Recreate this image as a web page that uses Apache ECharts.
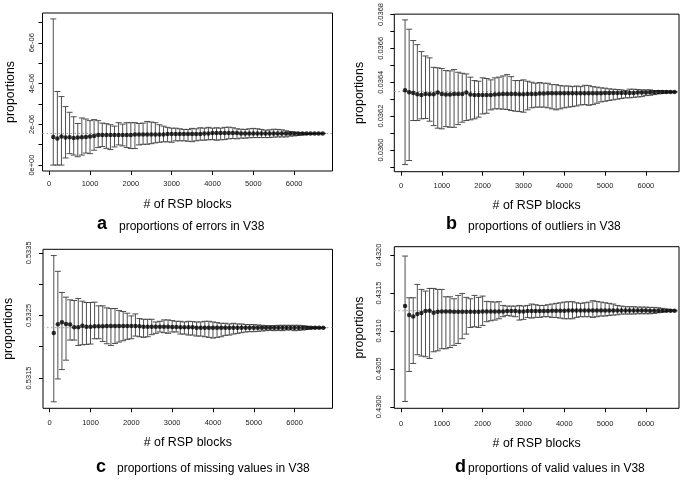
<!DOCTYPE html>
<html>
<head>
<meta charset="utf-8">
<script src="https://cdn.jsdelivr.net/npm/echarts@6/dist/echarts.min.js"></script>
<style>
html,body{margin:0;padding:0;background:#fff;}
#c{width:685px;height:480px;}
</style>
</head>
<body>
<div id="c"></div>
<script>
// ---------- DATA ----------
const blocks = [100,200,300,400,500,600,700,800,900,1000,
  1100,1200,1300,1400,1500,1600,1700,1800,1900,2000,
  2100,2200,2300,2400,2500,2600,2700,2800,2900,3000,
  3100,3200,3300,3400,3500,3600,3700,3800,3900,4000,
  4100,4200,4300,4400,4500,4600,4700,4800,4900,5000,
  5100,5200,5300,5400,5500,5600,5700,5800,5900,6000,
  6100,6200,6300,6400,6500,6600,6700];

// a: proportions of errors
const errMean = [1.38e-6,1.30e-6,1.40e-6,1.35e-6,1.37e-6,1.33e-6,1.35e-6,1.37e-6,1.38e-6,1.40e-6,
  1.43e-6,1.47e-6,1.48e-6,1.48e-6,1.48e-6,1.48e-6,1.48e-6,1.48e-6,1.48e-6,1.48e-6,
  1.50e-6,1.50e-6,1.50e-6,1.50e-6,1.50e-6,1.50e-6,1.50e-6,1.50e-6,1.52e-6,1.52e-6,
  1.52e-6,1.52e-6,1.53e-6,1.53e-6,1.53e-6,1.53e-6,1.53e-6,1.55e-6,1.55e-6,1.57e-6,
  1.57e-6,1.57e-6,1.57e-6,1.57e-6,1.57e-6,1.57e-6,1.55e-6,1.55e-6,1.55e-6,1.55e-6,
  1.55e-6,1.55e-6,1.55e-6,1.55e-6,1.55e-6,1.55e-6,1.55e-6,1.55e-6,1.55e-6,1.55e-6,
  1.55e-6,1.55e-6,1.55e-6,1.55e-6,1.55e-6,1.55e-6,1.55e-6];
const errLow = [0,0,0,0.35e-6,0.56e-6,0.49e-6,0.41e-6,0.49e-6,0.59e-6,0.56e-6,
  0.73e-6,0.86e-6,0.91e-6,0.82e-6,0.76e-6,0.89e-6,0.99e-6,0.94e-6,0.86e-6,0.81e-6,
  0.81e-6,0.99e-6,1.02e-6,1.02e-6,1.05e-6,1.09e-6,1.12e-6,1.14e-6,1.14e-6,1.12e-6,
  1.19e-6,1.19e-6,1.19e-6,1.17e-6,1.15e-6,1.19e-6,1.22e-6,1.22e-6,1.24e-6,1.25e-6,
  1.22e-6,1.24e-6,1.25e-6,1.29e-6,1.30e-6,1.29e-6,1.32e-6,1.32e-6,1.34e-6,1.35e-6,
  1.35e-6,1.35e-6,1.35e-6,1.35e-6,1.37e-6,1.38e-6,1.38e-6,1.38e-6,1.42e-6,1.43e-6,
  1.45e-6,1.48e-6,1.50e-6,1.52e-6,1.53e-6,1.53e-6,1.54e-6];
const errHigh = [7.17e-6,3.61e-6,3.36e-6,2.87e-6,2.59e-6,2.37e-6,2.04e-6,2.31e-6,2.26e-6,2.18e-6,
  2.23e-6,2.18e-6,2.06e-6,2.03e-6,1.98e-6,1.91e-6,2.08e-6,2.01e-6,2.08e-6,2.08e-6,
  2.08e-6,2.04e-6,2.06e-6,2.14e-6,2.11e-6,2.08e-6,1.98e-6,1.91e-6,1.85e-6,1.81e-6,
  1.81e-6,1.78e-6,1.75e-6,1.75e-6,1.80e-6,1.78e-6,1.83e-6,1.81e-6,1.85e-6,1.81e-6,
  1.83e-6,1.81e-6,1.85e-6,1.86e-6,1.83e-6,1.78e-6,1.76e-6,1.75e-6,1.78e-6,1.80e-6,
  1.78e-6,1.75e-6,1.71e-6,1.73e-6,1.76e-6,1.75e-6,1.73e-6,1.68e-6,1.65e-6,1.62e-6,
  1.58e-6,1.57e-6,1.57e-6,1.56e-6,1.56e-6,1.56e-6,1.56e-6];
const errRef = 1.55e-6;

// b: proportions of outliers
const outMean = [0.036353,0.036341,0.036337,0.036329,0.036325,0.036331,0.036329,0.036329,0.036339,0.036331,
  0.036327,0.036327,0.036331,0.036331,0.036331,0.036339,0.036327,0.036325,0.036325,0.036325,
  0.036325,0.036325,0.036327,0.036329,0.036331,0.036331,0.036331,0.036331,0.036329,0.036329,
  0.036331,0.036331,0.036331,0.036333,0.036333,0.036335,0.036335,0.036335,0.036335,0.036335,
  0.036335,0.036335,0.036335,0.036335,0.036335,0.036335,0.036335,0.036335,0.036335,0.036337,
  0.036337,0.036337,0.036337,0.036337,0.036337,0.036337,0.036337,0.036339,0.036339,0.036339,
  0.036341,0.036341,0.036343,0.036343,0.036343,0.036343,0.036343];
const outLow = [0.035914,0.035938,0.036174,0.036174,0.036184,0.036186,0.036170,0.036144,0.036129,0.036125,
  0.036138,0.036134,0.036134,0.036150,0.036164,0.036174,0.036178,0.036184,0.036194,0.036213,
  0.036217,0.036237,0.036243,0.036243,0.036241,0.036239,0.036233,0.036229,0.036227,0.036223,
  0.036237,0.036249,0.036253,0.036253,0.036253,0.036249,0.036243,0.036237,0.036243,0.036249,
  0.036253,0.036256,0.036260,0.036266,0.036268,0.036264,0.036268,0.036276,0.036284,0.036288,
  0.036292,0.036296,0.036300,0.036304,0.036308,0.036308,0.036311,0.036313,0.036315,0.036321,
  0.036323,0.036327,0.036331,0.036335,0.036337,0.036339,0.036341];
const outHigh = [0.036768,0.036713,0.036646,0.036622,0.036581,0.036555,0.036544,0.036488,0.036485,0.036481,
  0.036469,0.036467,0.036475,0.036459,0.036453,0.036449,0.036430,0.036410,0.036406,0.036426,
  0.036422,0.036414,0.036426,0.036430,0.036437,0.036445,0.036433,0.036410,0.036410,0.036414,
  0.036406,0.036400,0.036394,0.036398,0.036394,0.036394,0.036386,0.036386,0.036380,0.036378,
  0.036378,0.036374,0.036378,0.036374,0.036382,0.036380,0.036374,0.036371,0.036367,0.036365,
  0.036361,0.036359,0.036357,0.036355,0.036351,0.036359,0.036359,0.036357,0.036355,0.036355,
  0.036355,0.036351,0.036351,0.036349,0.036349,0.036347,0.036345];
const outRef = 0.036345;

// c: proportions of missing values
const missMean = [0.532218,0.532358,0.532390,0.532363,0.532353,0.532310,0.532310,0.532336,0.532320,0.532320,
  0.532326,0.532326,0.532326,0.532331,0.532331,0.532331,0.532331,0.532331,0.532331,0.532331,
  0.532331,0.532326,0.532320,0.532320,0.532320,0.532320,0.532320,0.532320,0.532320,0.532315,
  0.532315,0.532310,0.532310,0.532310,0.532310,0.532304,0.532304,0.532304,0.532304,0.532304,
  0.532304,0.532304,0.532304,0.532304,0.532304,0.532304,0.532304,0.532304,0.532304,0.532304,
  0.532304,0.532304,0.532304,0.532304,0.532304,0.532304,0.532304,0.532304,0.532304,0.532304,
  0.532304,0.532304,0.532304,0.532304,0.532304,0.532304,0.532302];
const missLow = [0.531119,0.531484,0.531634,0.531784,0.532106,0.532106,0.532020,0.532031,0.532036,0.532042,
  0.532127,0.532127,0.532084,0.532047,0.532020,0.532052,0.532074,0.532095,0.532117,0.532127,
  0.532170,0.532159,0.532149,0.532159,0.532192,0.532213,0.532235,0.532224,0.532213,0.532235,
  0.532235,0.532202,0.532202,0.532186,0.532186,0.532170,0.532170,0.532159,0.532149,0.532138,
  0.532149,0.532159,0.532181,0.532186,0.532202,0.532213,0.532224,0.532235,0.532240,0.532240,
  0.532245,0.532251,0.532256,0.532261,0.532256,0.532261,0.532256,0.532267,0.532267,0.532256,
  0.532261,0.532267,0.532277,0.532288,0.532294,0.532294,0.532299];
const missHigh = [0.533457,0.533205,0.532867,0.532792,0.532749,0.532739,0.532771,0.532728,0.532706,0.532706,
  0.532712,0.532653,0.532653,0.532621,0.532610,0.532610,0.532578,0.532562,0.532535,0.532492,
  0.532524,0.532449,0.532438,0.532438,0.532438,0.532395,0.532406,0.532428,0.532428,0.532417,
  0.532406,0.532406,0.532395,0.532406,0.532401,0.532395,0.532395,0.532406,0.532406,0.532395,
  0.532385,0.532374,0.532374,0.532363,0.532374,0.532363,0.532363,0.532353,0.532353,0.532353,
  0.532347,0.532342,0.532336,0.532336,0.532336,0.532342,0.532342,0.532342,0.532342,0.532342,
  0.532342,0.532336,0.532326,0.532315,0.532315,0.532310,0.532306];
const missRef = 0.532304;

// d: proportions of valid values
const validMean = [0.431327,0.431209,0.431191,0.431222,0.431235,0.431261,0.431266,0.431239,0.431253,0.431257,
  0.431257,0.431257,0.431253,0.431253,0.431253,0.431253,0.431253,0.431253,0.431253,0.431257,
  0.431257,0.431257,0.431257,0.431257,0.431257,0.431261,0.431261,0.431261,0.431257,0.431257,
  0.431261,0.431261,0.431261,0.431261,0.431261,0.431261,0.431266,0.431266,0.431266,0.431266,
  0.431270,0.431270,0.431270,0.431270,0.431270,0.431270,0.431270,0.431270,0.431270,0.431270,
  0.431270,0.431270,0.431270,0.431270,0.431270,0.431270,0.431270,0.431270,0.431270,0.431270,
  0.431266,0.431266,0.431266,0.431266,0.431266,0.431266,0.431266];
const validLow = [0.430070,0.430466,0.430571,0.430686,0.430668,0.430659,0.430637,0.430725,0.430738,0.430765,
  0.430765,0.430782,0.430809,0.430835,0.430897,0.430958,0.431046,0.431055,0.431046,0.431072,
  0.431121,0.431134,0.431143,0.431160,0.431187,0.431204,0.431196,0.431187,0.431143,0.431152,
  0.431178,0.431169,0.431178,0.431178,0.431187,0.431187,0.431178,0.431178,0.431169,0.431160,
  0.431160,0.431160,0.431178,0.431187,0.431187,0.431187,0.431178,0.431187,0.431196,0.431196,
  0.431204,0.431209,0.431213,0.431222,0.431222,0.431222,0.431222,0.431226,0.431226,0.431226,
  0.431226,0.431231,0.431239,0.431248,0.431257,0.431261,0.431262];
const validHigh = [0.431987,0.431437,0.431437,0.431613,0.431547,0.431525,0.431560,0.431560,0.431547,0.431547,
  0.431450,0.431450,0.431424,0.431468,0.431494,0.431442,0.431424,0.431468,0.431442,0.431459,
  0.431389,0.431385,0.431380,0.431385,0.431336,0.431327,0.431327,0.431327,0.431336,0.431327,
  0.431336,0.431354,0.431345,0.431336,0.431336,0.431345,0.431354,0.431363,0.431371,0.431380,
  0.431385,0.431385,0.431371,0.431363,0.431371,0.431380,0.431398,0.431389,0.431380,0.431371,
  0.431363,0.431354,0.431336,0.431327,0.431319,0.431319,0.431319,0.431314,0.431314,0.431314,
  0.431310,0.431310,0.431305,0.431297,0.431288,0.431279,0.431272];
const validRef = 0.431266;

// tick values and labels
const xTicks = [0,1000,2000,3000,4000,5000,6000];
const xTickText = ['0','1000','2000','3000','4000','5000','6000'];
const yTicksA = [0,1e-6,2e-6,3e-6,4e-6,5e-6,6e-6,7e-6];
const yLabelValsA = [0,2e-6,4e-6,6e-6];
const yLabelTextA = ['0e+00','2e-06','4e-06','6e-06'];
const yTicksB = [0.0359,0.0360,0.0361,0.0362,0.0363,0.0364,0.0365,0.0366,0.0367,0.0368];
const yLabelValsB = [0.0360,0.0362,0.0364,0.0366,0.0368];
const yLabelTextB = ['0.0360','0.0362','0.0364','0.0366','0.0368'];
const yTicksC = [0.5315,0.5320,0.5325,0.5330,0.5335];
const yLabelValsC = [0.5315,0.5325,0.5335];
const yLabelTextC = ['0.5315','0.5325','0.5335'];
const yTicksD = [0.4300,0.4305,0.4310,0.4315,0.4320];
const yLabelValsD = [0.4300,0.4305,0.4310,0.4315,0.4320];
const yLabelTextD = ['0.4300','0.4305','0.4310','0.4315','0.4320'];

const xName = '# of RSP blocks';
const yName = 'proportions';
const panelLetters = ['a','b','c','d'];
const panelTitles = ['proportions of errors in V38','proportions of outliers in V38',
  'proportions of missing values in V38','proportions of valid values in V38'];

// ---------- CHART ----------
const FONT = '"Liberation Sans", Arial, Helvetica, sans-serif';

const panels = [
  {grid:{left:42.5, top:13, width:290, height:158}, xMin:-164, xMax:6940,
   yMin:-0.29e-6, yMax:7.46e-6, yTicks:yTicksA, yLV:yLabelValsA, yLT:yLabelTextA,
   mean:errMean, low:errLow, high:errHigh, ref:errRef,
   yLabelMargin:7, yNameGap:26, xLabelMargin:9, xNameGap:28},
  {grid:{left:394.3, top:14, width:284.7, height:157.7}, xMin:-164, xMax:6810,
   yMin:0.035872, yMax:0.036802, yTicks:yTicksB, yLV:yLabelValsB, yLT:yLabelTextB,
   mean:outMean, low:outLow, high:outHigh, ref:outRef,
   yLabelMargin:9, yNameGap:29, xLabelMargin:10, xNameGap:28},
  {grid:{left:43, top:249.3, width:289.5, height:159}, xMin:-164, xMax:6928,
   yMin:0.531015, yMax:0.533557, yTicks:yTicksC, yLV:yLabelValsC, yLT:yLabelTextC,
   mean:missMean, low:missLow, high:missHigh, ref:missRef,
   yLabelMargin:10, yNameGap:28, xLabelMargin:11, xNameGap:28},
  {grid:{left:394.3, top:246.7, width:284.7, height:161.6}, xMin:-164, xMax:6810,
   yMin:0.42998, yMax:0.43211, yTicks:yTicksD, yLV:yLabelValsD, yLT:yLabelTextD,
   mean:validMean, low:validLow, high:validHigh, ref:validRef,
   yLabelMargin:11, yNameGap:29, xLabelMargin:11.5, xNameGap:29}
];

function pickLabel(vals, texts, v) {
  let best = 0, bd = Infinity;
  for (let k = 0; k < vals.length; k++) { const d = Math.abs(vals[k] - v); if (d < bd) { bd = d; best = k; } }
  return texts[best];
}

function renderBar(params, api) {
  const x = api.value(0), lo = api.value(1), hi = api.value(2);
  const pl = api.coord([x, lo]);
  const ph = api.coord([x, hi]);
  const w = 3;
  const st = {stroke:'#3c3c3c', lineWidth:0.9};
  return {type:'group', children:[
    {type:'line', shape:{x1:pl[0], y1:pl[1], x2:ph[0], y2:ph[1]}, style:st},
    {type:'line', shape:{x1:pl[0]-w, y1:pl[1], x2:pl[0]+w, y2:pl[1]}, style:st},
    {type:'line', shape:{x1:ph[0]-w, y1:ph[1], x2:ph[0]+w, y2:ph[1]}, style:st}
  ]};
}

const grids = [], xAxes = [], yAxes = [], series = [];
panels.forEach((p, i) => {
  grids.push(Object.assign({show:true, borderColor:'#000', borderWidth:1, backgroundColor:'transparent'}, p.grid));
  xAxes.push({
    type:'value', gridIndex:i, min:p.xMin, max:p.xMax,
    name:xName, nameLocation:'middle', nameGap:p.xNameGap,
    nameTextStyle:{fontFamily:FONT, fontSize:12.4, color:'#000'},
    axisLine:{show:false, onZero:false},
    axisTick:{show:true, length:4, inside:false, customValues:xTicks, lineStyle:{color:'#000', width:1}},
    axisLabel:{show:true, customValues:xTicks, margin:p.xLabelMargin, fontFamily:FONT, fontSize:7.5, color:'#222',
      formatter:function(v){ return pickLabel(xTicks, xTickText, v); }},
    splitLine:{show:false}
  });
  const lv = p.yLV, lt = p.yLT;
  yAxes.push({
    type:'value', gridIndex:i, min:p.yMin, max:p.yMax,
    name:yName, nameLocation:'middle', nameGap:p.yNameGap,
    nameTextStyle:{fontFamily:FONT, fontSize:12.4, color:'#000'},
    axisLine:{show:false, onZero:false},
    axisTick:{show:true, length:4, inside:false, customValues:p.yTicks, lineStyle:{color:'#000', width:1}},
    axisLabel:{show:true, customValues:lv, rotate:90, margin:p.yLabelMargin, fontFamily:FONT, fontSize:7.5, color:'#222',
      formatter:function(v){ return pickLabel(lv, lt, v); }},
    splitLine:{show:false}
  });
  // dotted reference line at the overall proportion
  series.push({
    type:'line', xAxisIndex:i, yAxisIndex:i, silent:true, z:1,
    symbol:'none', showSymbol:false,
    lineStyle:{type:[1.5,2.5], color:'#a0a0a0', width:1},
    data:[[p.xMin, p.ref], [p.xMax, p.ref]]
  });
  series.push({
    type:'custom', xAxisIndex:i, yAxisIndex:i, renderItem:renderBar,
    encode:{x:0, y:[1,2]}, clip:true, silent:true, z:3,
    data: blocks.map((b, k) => [b, p.low[k], p.high[k]])
  });
  series.push({
    type:'scatter', xAxisIndex:i, yAxisIndex:i, symbol:'circle', symbolSize:4.5,
    itemStyle:{color:'#000'}, silent:true, z:5,
    data: blocks.map((b, k) => [b, p.mean[k]])
  });
});

const titlePos = [
  {lx:97, ly:215.5, tx:119, ty:220.5},
  {lx:446, ly:215.5, tx:468, ty:220.5},
  {lx:96, ly:458, tx:117, ty:463},
  {lx:455, ly:458, tx:468, ty:463}
];
const graphics = [];
titlePos.forEach((t, i) => {
  graphics.push({type:'text', left:t.lx, top:t.ly, silent:true,
    style:{text:panelLetters[i], font:'bold 18px ' + FONT, fill:'#000'}});
  graphics.push({type:'text', left:t.tx, top:t.ty, silent:true,
    style:{text:panelTitles[i], font:'12px ' + FONT, fill:'#000'}});
});

const chart = echarts.init(document.getElementById('c'), null, {renderer:'canvas'});
chart.setOption({
  animation:false,
  backgroundColor:'#fff',
  grid:grids, xAxis:xAxes, yAxis:yAxes, series:series, graphic:graphics
});
</script>
</body>
</html>
